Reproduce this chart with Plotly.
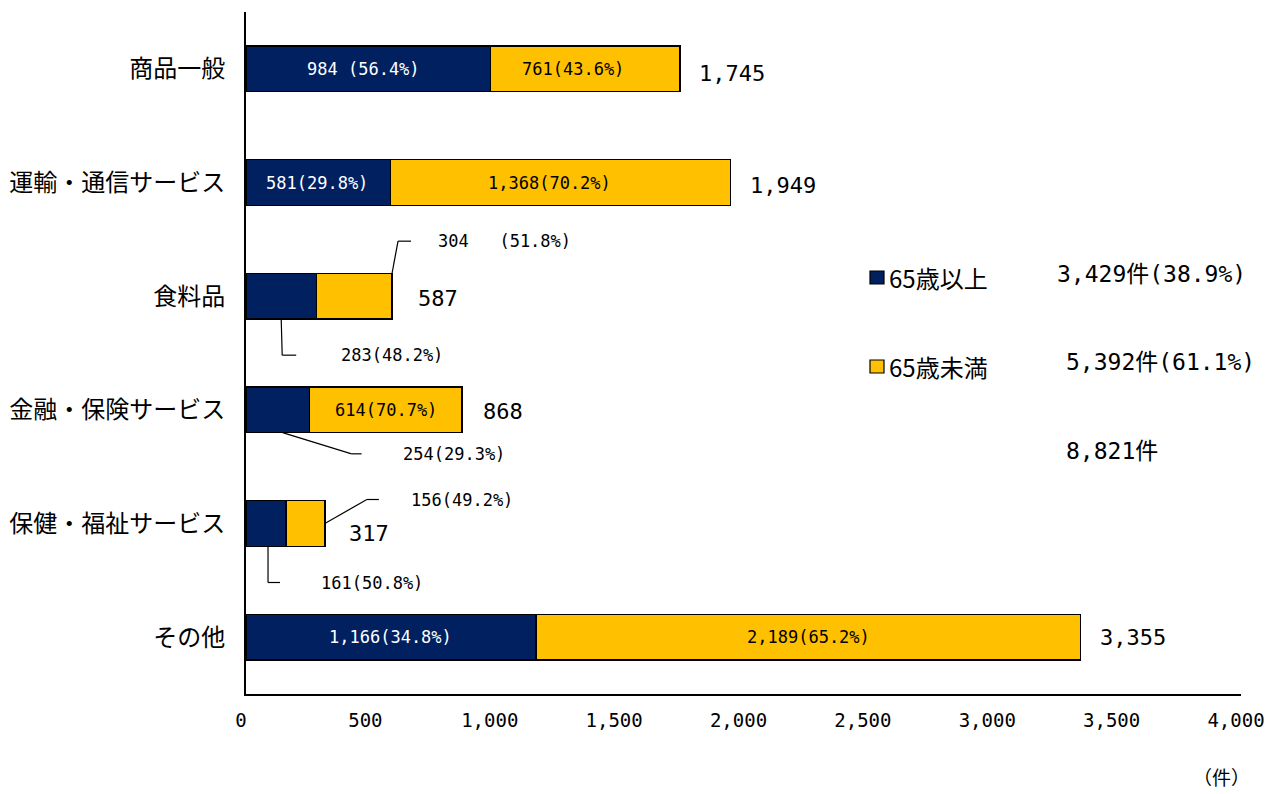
import plotly.graph_objects as go

categories = ["商品一般", "運輸・通信サービス", "食料品", "金融・保険サービス", "保健・福祉サービス", "その他"]
over65 = [984, 581, 283, 254, 161, 1166]
under65 = [761, 1368, 304, 614, 156, 2189]
tick_vals = [0, 500, 1000, 1500, 2000, 2500, 3000, 3500, 4000]
legend_names = ["65歳以上", "65歳未満"]

NAVY = "#002060"
YELLOW = "#FFC000"
JP = "Noto Sans CJK JP"
NUM = "DejaVu Sans Mono, Noto Sans CJK JP"

W, H = 1268, 794
L, R, T, B = 246, 1241, 12, 694  # plot area in pixels


def fmt(n):
    return f"{n:,}"


def pct(v, t):
    return f"{v / t * 100:.1f}%"


def paper_x(x):
    return (x - L) / (R - L)


def paper_y(y):
    return 1 - (y - T) / (B - T)


totals = [a + b for a, b in zip(over65, under65)]
grand = sum(totals)
sum_over = sum(over65)
sum_under = sum(under65)

fig = go.Figure()
fig.add_trace(go.Bar(y=categories, x=over65, orientation="h", name=legend_names[0],
                     marker=dict(color=NAVY, line=dict(color="black", width=1.3)), width=0.4,
                     hoverinfo="skip"))
fig.add_trace(go.Bar(y=categories, x=under65, orientation="h", name=legend_names[1],
                     marker=dict(color=YELLOW, line=dict(color="black", width=1.3)), width=0.4,
                     hoverinfo="skip"))

ann = []
shapes = []

# inside labels for wide segments
inside = {0: (True, True), 1: (True, True), 3: (False, True), 5: (True, True)}
inside_shift_b = {0: -12, 1: -11}
total_yshift = [-5, -3, -2, -2, -10, 0]
total_xshift = [17, 17, 24, 19, 22, 17]
for i, cat in enumerate(categories):
    a, b, t = over65[i], under65[i], totals[i]
    ins_a, ins_b = inside.get(i, (False, False))
    if ins_a:
        sep = "\u00a0" if i == 0 else ""
        ann.append(dict(x=a / 2, y=cat, text=f"{fmt(a)}{sep}({pct(a, t)})", showarrow=False,
                        xshift=(-5 if i == 0 else -1), font=dict(color="white", size=17, family=NUM)))
    if ins_b:
        ann.append(dict(x=a + b / 2, y=cat, text=f"{fmt(b)}({pct(b, t)})", showarrow=False,
                        xshift=inside_shift_b.get(i, 0),
                        font=dict(color="black", size=17, family=NUM)))
    ann.append(dict(x=t, y=cat, text=fmt(t), showarrow=False, xanchor="left",
                    xshift=total_xshift[i], yshift=total_yshift[i],
                    font=dict(color="black", size=22, family=NUM)))

px = 4000 / (R - L)       # data units per pixel on x
py = 6.0 / (B - T)        # category units per pixel on y (reversed: down = +)


def line(x0, y0, x1, y1):
    shapes.append(dict(type="line", xref="x", yref="y", x0=x0, y0=y0, x1=x1, y1=y1,
                       line=dict(color="black", width=1.2)))


def side_label(x, y, text):
    ann.append(dict(x=x, y=y, text=text, showarrow=False, xanchor="left",
                    font=dict(size=17, family=NUM, color="black")))


# 食料品
c = 2
t = totals[c]
line(t, c - 0.2, t + 6 * px, c - 55 * py)
line(t + 6 * px, c - 55 * py, t + 19 * px, c - 55 * py)
side_label(t + 44 * px, c - 55 * py, f"{fmt(under65[c])}\u00a0\u00a0\u00a0({pct(under65[c], t)})")
xa = over65[c] / 2
line(xa, c + 0.2, xa + 1 * px, c + 59 * py)
line(xa + 1 * px, c + 59 * py, xa + 15 * px, c + 59 * py)
side_label(xa + 58 * px, c + 59 * py, f"{fmt(over65[c])}({pct(over65[c], t)})")

# 金融・保険
c = 3
t = totals[c]
xa = over65[c] / 2 + 5 * px
line(xa, c + 0.2, xa + 69 * px, c + 44 * py)
line(xa + 69 * px, c + 44 * py, xa + 79 * px, c + 44 * py)
side_label(xa + 118 * px, c + 44 * py, f"{fmt(over65[c])}({pct(over65[c], t)})")

# 保健・福祉
c = 4
t = totals[c]
line(t, c, t + 42 * px, c - 24 * py)
line(t + 42 * px, c - 24 * py, t + 54 * px, c - 24 * py)
side_label(t + 84 * px, c - 24 * py, f"{fmt(under65[c])}({pct(under65[c], t)})")
xa = over65[c] / 2 + 2 * px
line(xa, c + 0.2, xa, c + 59 * py)
line(xa, c + 59 * py, xa + 12 * px, c + 59 * py)
side_label(xa + 51 * px, c + 59 * py, f"{fmt(over65[c])}({pct(over65[c], t)})")

# custom legend
for (y, col, name) in [(278, NAVY, legend_names[0]), (367, YELLOW, legend_names[1])]:
    shapes.append(dict(type="rect", xref="paper", yref="paper",
                       x0=paper_x(870), x1=paper_x(884), y0=paper_y(y + 6), y1=paper_y(y - 7),
                       fillcolor=col, line=dict(color="black", width=1.2)))
    ann.append(dict(xref="paper", yref="paper", x=paper_x(887), y=paper_y(y - 1), text=name,
                    showarrow=False, xanchor="left", yanchor="middle",
                    font=dict(size=24, family=JP, color="black")))


def summary(x, y, text):
    ann.append(dict(xref="paper", yref="paper", x=paper_x(x), y=paper_y(y), text=text,
                    showarrow=False, xanchor="left", yanchor="middle",
                    font=dict(size=23, family=NUM, color="black")))


summary(1055, 274, f"{fmt(sum_over)}件({sum_over / grand * 100:.1f}%)")
summary(1064, 362, f"{fmt(sum_under)}件({sum_under / grand * 100:.1f}%)")
summary(1064, 451, f"{fmt(grand)}件")

ann.append(dict(xref="paper", yref="paper", x=paper_x(1252), y=paper_y(777), text="（件）",
                showarrow=False, xanchor="right", yanchor="middle",
                font=dict(size=19, family=JP, color="black")))

fig.update_layout(
    barmode="stack",
    width=W, height=H,
    margin=dict(l=L, r=W - R, t=T, b=H - B, autoexpand=False),
    plot_bgcolor="white", paper_bgcolor="white",
    showlegend=False,
    font=dict(family=JP, color="black"),
    annotations=ann,
    shapes=shapes,
    xaxis=dict(range=[0, 4000], tickvals=tick_vals, ticktext=[fmt(v) for v in tick_vals],
               showgrid=False, zeroline=False, showline=True, linecolor="black", linewidth=2,
               ticks="", tickfont=dict(size=19, family=NUM), ticklabelstandoff=8,
               ticklabelshift=-5, automargin=False, fixedrange=True),
    yaxis=dict(categoryorder="array", categoryarray=categories, autorange="reversed",
               showgrid=False, zeroline=False, showline=True, linecolor="black", linewidth=2,
               ticks="", tickfont=dict(size=24, family=JP), ticklabelstandoff=14,
               automargin=False, fixedrange=True),
)

fig.write_html("out.html")
